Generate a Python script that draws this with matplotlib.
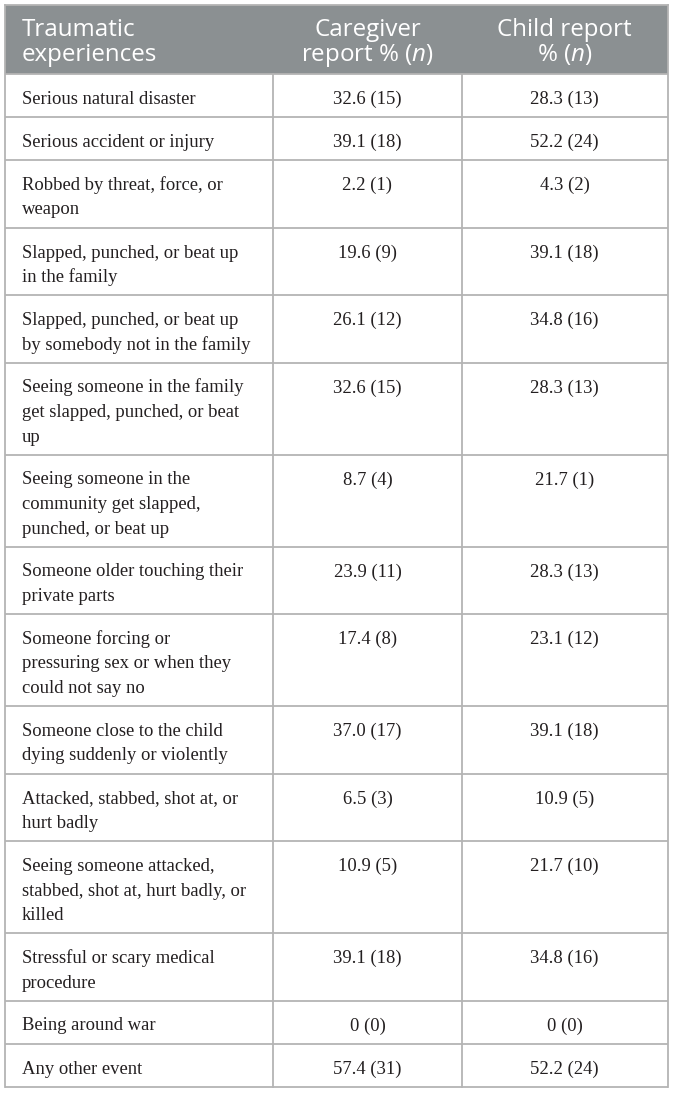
import matplotlib
matplotlib.use("Agg")
import matplotlib.pyplot as plt
from matplotlib.patches import Rectangle

plt.rcParams['mathtext.fontset'] = 'custom'
plt.rcParams['mathtext.rm'] = 'Open Sans'
plt.rcParams['mathtext.it'] = 'Open Sans:italic'

# ---- data ----
header_labels = [["Traumatic", "experiences"],
                 ["Caregiver", "report % ($\\mathit{n}$)"],
                 ["Child report", "% ($\\mathit{n}$)"]]
experiences = [
    "Serious natural disaster",
    "Serious accident or injury",
    "Robbed by threat, force, or\nweapon",
    "Slapped, punched, or beat up\nin the family",
    "Slapped, punched, or beat up\nby somebody not in the family",
    "Seeing someone in the family\nget slapped, punched, or beat\nup",
    "Seeing someone in the\ncommunity get slapped,\npunched, or beat up",
    "Someone older touching their\nprivate parts",
    "Someone forcing or\npressuring sex or when they\ncould not say no",
    "Someone close to the child\ndying suddenly or violently",
    "Attacked, stabbed, shot at, or\nhurt badly",
    "Seeing someone attacked,\nstabbed, shot at, hurt badly, or\nkilled",
    "Stressful or scary medical\nprocedure",
    "Being around war",
    "Any other event",
]
caregiver = ["32.6 (15)", "39.1 (18)", "2.2 (1)", "19.6 (9)", "26.1 (12)", "32.6 (15)",
             "8.7 (4)", "23.9 (11)", "17.4 (8)", "37.0 (17)", "6.5 (3)", "10.9 (5)",
             "39.1 (18)", "0 (0)", "57.4 (31)"]
child = ["28.3 (13)", "52.2 (24)", "4.3 (2)", "39.1 (18)", "34.8 (16)", "28.3 (13)",
         "21.7 (1)", "28.3 (13)", "23.1 (12)", "39.1 (18)", "10.9 (5)", "21.7 (10)",
         "34.8 (16)", "0 (0)", "52.2 (24)"]

# ---- layout (pixels) ----
W, H = 673, 1094
fig = plt.figure(figsize=(W / 100, H / 100), dpi=100)
ax = fig.add_axes([0, 0, 1, 1])
ax.set_xlim(0, W)
ax.set_ylim(H, 0)
ax.axis('off')

col_x = [4.5, 273, 462, 667.5]
top, header_h = 4.5, 69.5
line_h = 24.5
base_first = 30
grid_c = '#b4b4b4'
head_c = '#8b9092'
text_c = '#231f20'
serif = 'Liberation Serif'
sans = 'Open Sans'
fs_body = 13.4
fs_head = 17.4

# header
ax.add_patch(Rectangle((col_x[0], top), col_x[-1] - col_x[0], header_h,
                       facecolor=head_c, edgecolor='none'))
head_base = [36, 61]
for ci, lines in enumerate(header_labels):
    for k, ln in enumerate(lines):
        if ci == 0:
            ax.text(22, head_base[k], ln, ha='left', va='baseline', color='white',
                    fontsize=fs_head, family=sans)
        else:
            ax.text((col_x[ci] + col_x[ci + 1]) / 2, head_base[k], ln, ha='center',
                    va='baseline', color='white', fontsize=fs_head, family=sans)

# rows
y = top + header_h
row_edges = [y]
for lab, cg, ch in zip(experiences, caregiver, child):
    lines = lab.split('\n')
    h = 43 + (len(lines) - 1) * line_h
    for k, ln in enumerate(lines):
        ax.text(22, y + base_first + k * line_h, ln, ha='left', va='baseline',
                color=text_c, fontsize=fs_body, family=serif)
    ax.text((col_x[1] + col_x[2]) / 2, y + base_first, cg, ha='center', va='baseline',
            color=text_c, fontsize=fs_body, family=serif)
    ax.text((col_x[2] + col_x[3]) / 2, y + base_first, ch, ha='center', va='baseline',
            color=text_c, fontsize=fs_body, family=serif)
    y += h
    row_edges.append(y)

bottom = row_edges[-1]
for ye in row_edges:
    ax.plot([col_x[0], col_x[-1]], [ye, ye], color=grid_c, lw=1.3, solid_capstyle='butt')
ax.plot([col_x[0], col_x[-1]], [top, top], color=grid_c, lw=1.3)
for i, xv in enumerate(col_x):
    y_start = top if i in (0, len(col_x) - 1) else top + header_h
    ax.plot([xv, xv], [y_start, bottom], color=grid_c, lw=1.3)

fig.savefig('out.png', dpi=100)
